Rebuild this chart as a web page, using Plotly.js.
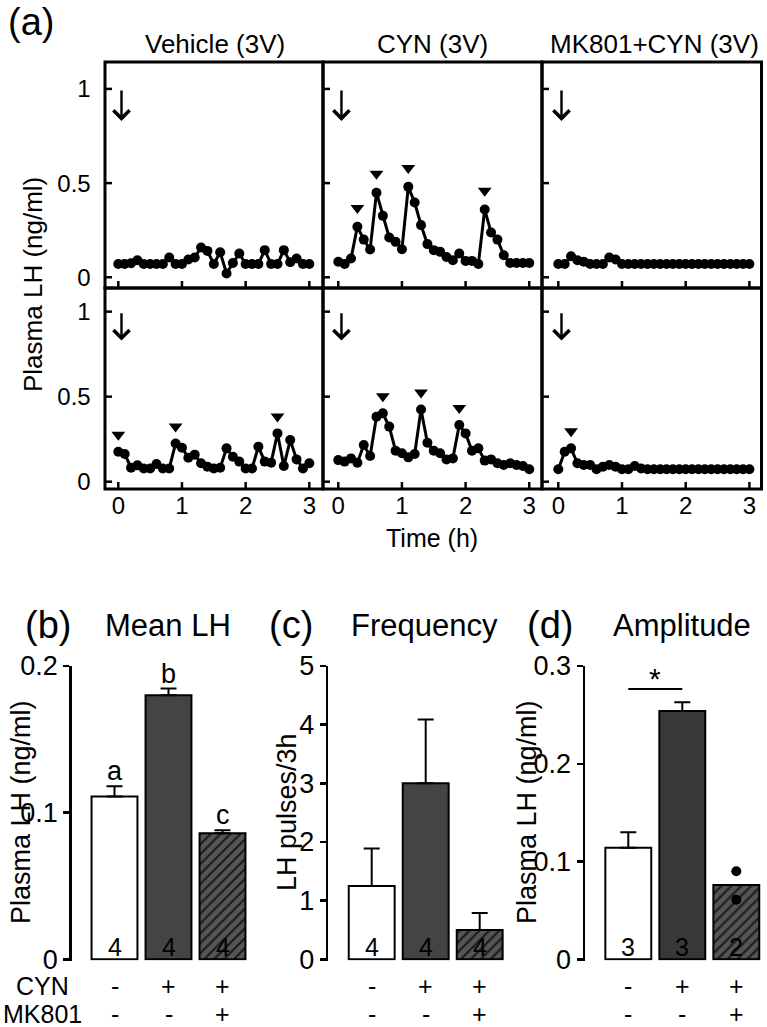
<!DOCTYPE html>
<html><head><meta charset="utf-8">
<script src="https://cdn.plot.ly/plotly-3.0.1.min.js"></script>
<style>html,body{margin:0;padding:0;background:#fff}</style>
</head><body>
<div id="chart" style="width:767px;height:1027px"></div>
<script>
// ---------- DATA ----------
const time = [0,0.1,0.2,0.3,0.4,0.5,0.6,0.7,0.8,0.9,1.0,1.1,1.2,1.3,1.4,1.5,1.6,1.7,1.8,1.9,2.0,2.1,2.2,2.3,2.4,2.5,2.6,2.7,2.8,2.9,3.0];
const timeTicks = [0, 1, 2, 3];
const lhTicks = [0, 0.5, 1];
const lhTickText = ['0', '0.5', '1'];
const panelTitles = ['Vehicle (3V)', 'CYN (3V)', 'MK801+CYN (3V)'];
const vehTop = [0.07,0.07,0.075,0.09,0.07,0.07,0.07,0.07,0.105,0.07,0.07,0.094,0.105,0.158,0.14,0.07,0.133,0.02,0.076,0.126,0.07,0.07,0.07,0.144,0.07,0.07,0.144,0.08,0.1,0.07,0.07];
const cynTop = [0.082,0.07,0.1,0.268,0.2,0.147,0.449,0.326,0.211,0.188,0.149,0.48,0.397,0.277,0.176,0.144,0.135,0.108,0.09,0.126,0.087,0.087,0.07,0.36,0.238,0.2,0.117,0.076,0.076,0.076,0.076];
const mkTop  = [0.07,0.07,0.112,0.09,0.082,0.07,0.07,0.07,0.105,0.094,0.07,0.07,0.07,0.07,0.07,0.07,0.07,0.07,0.07,0.07,0.07,0.07,0.07,0.07,0.07,0.07,0.07,0.07,0.07,0.07,0.07];
const vehBot = [0.176,0.163,0.082,0.096,0.078,0.078,0.104,0.078,0.078,0.225,0.2,0.141,0.159,0.108,0.088,0.078,0.082,0.196,0.147,0.118,0.078,0.078,0.206,0.118,0.112,0.284,0.092,0.245,0.131,0.078,0.108];
const cynBot = [0.127,0.118,0.137,0.112,0.216,0.151,0.382,0.402,0.324,0.182,0.167,0.143,0.163,0.425,0.229,0.182,0.167,0.131,0.137,0.333,0.284,0.182,0.196,0.124,0.131,0.108,0.098,0.108,0.098,0.092,0.073];
const mkBot  = [0.073,0.176,0.196,0.108,0.098,0.098,0.073,0.088,0.098,0.088,0.073,0.073,0.092,0.078,0.073,0.073,0.073,0.073,0.073,0.073,0.073,0.073,0.073,0.073,0.073,0.073,0.073,0.073,0.073,0.073,0.073];
// pulse times (arrowheads)
const vehTopPulses = [];
const cynTopPulses = [0.3, 0.6, 1.1, 2.3];
const mkTopPulses  = [];
const vehBotPulses = [0, 0.9, 2.5];
const cynBotPulses = [0.7, 1.3, 1.9];
const mkBotPulses  = [0.2];
const injectionTime = [0];

const groups = ['Vehicle', 'CYN', 'MK801+CYN'];
const meanLH = [0.111, 0.180, 0.086];
const meanLHsem = [0.007, 0.0046, 0.002];
const meanLetters = ['a', 'b', 'c'];
const meanN = ['4', '4', '4'];
const freq = [1.25, 3.0, 0.5];
const freqSem = [0.64, 1.09, 0.29];
const freqN = ['4', '4', '4'];
const amp = [0.114, 0.254, 0.076];
const ampSem = [0.016, 0.009, null];
const ampN = ['3', '3', '2'];
const ampDots = [0.090, 0.061];
const cynSigns = ['-', '+', '+'];
const mkSigns  = ['-', '-', '+'];

// ---------- LAYOUT HELPERS ----------
const W = 767, H = 1027;
const px = v => v / W, py = v => 1 - v / H;
const FONT = 'Liberation Sans, Arial, sans-serif';
const series = [vehTop, cynTop, mkTop, vehBot, cynBot, mkBot];
const pulses = [vehTopPulses, cynTopPulses, mkTopPulses, vehBotPulses, cynBotPulses, mkBotPulses];
const xid = k => k === 1 ? 'x' : 'x' + k;
const yid = k => k === 1 ? 'y' : 'y' + k;
const xkey = k => k === 1 ? 'xaxis' : 'xaxis' + k;
const ykey = k => k === 1 ? 'yaxis' : 'yaxis' + k;

const colX = [[105, 323], [323, 542], [542, 761.5]];
const colR = [[-0.209, 3.215], [-0.24, 3.2], [-0.256, 3.19]];
const rowY = [[62, 288], [288, 489]];
const rowR = [[-0.057, 1.143], [-0.043, 1.139]];
const TICKLEN = 7;

const traces = [];
const layout = {
  width: W, height: H, margin: {l: 0, r: 0, t: 0, b: 0},
  paper_bgcolor: '#fff', plot_bgcolor: 'rgba(0,0,0,0)',
  showlegend: false, font: {family: FONT, color: '#000'}, barmode: 'overlay',
  annotations: [], shapes: []
};

for (let k = 1; k <= 6; k++) {
  const row = k <= 3 ? 0 : 1, col = (k - 1) % 3;
  const ys = series[k - 1];
  const wpx = colX[col][1] - colX[col][0], hpx = rowY[row][1] - rowY[row][0];
  traces.push({
    type: 'scatter', mode: 'lines+markers', x: time, y: ys,
    xaxis: xid(k), yaxis: yid(k),
    line: {color: '#000', width: 3}, marker: {color: '#000', size: 10}
  });
  const pt = pulses[k - 1];
  traces.push({
    type: 'scatter', mode: 'markers', x: pt,
    y: pt.map(t => ys[time.indexOf(t)] + 0.1),
    xaxis: xid(k), yaxis: yid(k),
    marker: {symbol: 'triangle-down', color: '#000', size: 12}
  });
  layout[xkey(k)] = {
    domain: [px(colX[col][0]), px(colX[col][1])], range: colR[col], anchor: yid(k),
    showline: false, ticks: '',
    tickvals: timeTicks, ticktext: timeTicks.map(String),
    showticklabels: row === 1, tickfont: {size: 24},
    showgrid: false, zeroline: false, fixedrange: true
  };
  layout[ykey(k)] = {
    domain: [py(rowY[row][1]), py(rowY[row][0])], range: rowR[row], anchor: xid(k),
    showline: false, ticks: '',
    tickvals: lhTicks, ticktext: lhTickText.map(s => s + '\u00a0\u00a0'),
    showticklabels: col === 0, tickfont: {size: 24},
    showgrid: false, zeroline: false, fixedrange: true
  };
  // frame
  layout.shapes.push({type: 'rect', xref: xid(k) + ' domain', yref: yid(k) + ' domain', x0: 0, x1: 1, y0: 0, y1: 1,
    line: {color: '#000', width: 3}, fillcolor: 'rgba(0,0,0,0)'});
  // inside ticks
  timeTicks.forEach(t => layout.shapes.push({type: 'line', xref: xid(k), yref: yid(k) + ' domain', x0: t, x1: t, y0: 0, y1: TICKLEN / hpx, line: {color: '#000', width: 2.5}}));
  lhTicks.forEach(v => layout.shapes.push({type: 'line', xref: xid(k) + ' domain', yref: yid(k), x0: 0, x1: TICKLEN / wpx, y0: v, y1: v, line: {color: '#000', width: 2.5}}));
  // injection arrow
  layout.annotations.push({
    xref: xid(k), yref: yid(k), x: injectionTime[0] + 0.05, y: 0.83,
    axref: xid(k), ayref: yid(k), ax: injectionTime[0] + 0.05, ay: 1.0,
    showarrow: true, arrowhead: 4, arrowsize: 1.3, arrowwidth: 2.4, arrowcolor: '#000', text: ''
  });
}

// panel (a) texts
layout.annotations.push({xref: 'paper', yref: 'paper', x: px(31), y: py(22), text: '(a)', showarrow: false, font: {size: 38}, xanchor: 'center', yanchor: 'middle'});
const titleX = [215, 433, 654];
panelTitles.forEach((t, i) => layout.annotations.push({xref: 'paper', yref: 'paper', x: px(titleX[i]), y: py(44), text: t, showarrow: false, font: {size: 26}, xanchor: 'center', yanchor: 'middle'}));
layout.annotations.push({xref: 'paper', yref: 'paper', x: px(33), y: py(285), text: 'Plasma LH (ng/ml)', textangle: -90, showarrow: false, font: {size: 26}, xanchor: 'center', yanchor: 'middle'});
layout.annotations.push({xref: 'paper', yref: 'paper', x: px(432), y: py(538), text: 'Time (h)', showarrow: false, font: {size: 25}, xanchor: 'center', yanchor: 'middle'});

// ---------- BAR CHARTS ----------
const bars = [
  {k: 7, vals: meanLH, sem: meanLHsem, n: meanN, axisX: 71.7, c0: 114.5, right: 250, yr: [0, 0.2], tv: [0, 0.1, 0.2], tt: ['0', '0.1', '0.2'],
   dark: '#444444', ytitle: 'Plasma LH (ng/ml)', ytx: 21, lab: '(b)', labX: 48, title: 'Mean LH', titleX: 168},
  {k: 8, vals: freq, sem: freqSem, n: freqN, axisX: 328.3, c0: 371.7, right: 505, yr: [0, 5], tv: [0, 1, 2, 3, 4, 5], tt: ['0', '1', '2', '3', '4', '5'],
   dark: '#444444', ytitle: 'LH pulses/3h', ytx: 287, lab: '(c)', labX: 291, title: 'Frequency', titleX: 425},
  {k: 9, vals: amp, sem: ampSem, n: ampN, axisX: 585, c0: 628.3, right: 765, yr: [0, 0.3], tv: [0, 0.1, 0.2, 0.3], tt: ['0', '0.1', '0.2', '0.3'],
   dark: '#383838', ytitle: 'Plasma LH (ng/ml)', ytx: 527, lab: '(d)', labX: 550, title: 'Amplitude', titleX: 682}
];
const SP = 54, Y0 = 959.3, YT = 666;
bars.forEach(b => {
  const k = b.k;
  const xs = [0, 1, 2];
  const span = b.yr[1] - b.yr[0];
  const ppu = (Y0 - YT) / span;
  const errStyle = {type: 'data', symmetric: false, color: '#000', thickness: 2, width: 8};
  // open and solid bars
  traces.push({
    type: 'bar', x: xs.slice(0, 2), y: b.vals.slice(0, 2), width: 0.85, xaxis: 'x' + k, yaxis: 'y' + k,
    marker: {color: ['#ffffff', b.dark], line: {color: '#000', width: 2}},
    error_y: Object.assign({array: b.sem.slice(0, 2), arrayminus: [0, 0]}, errStyle)
  });
  // hatched bar
  traces.push({
    type: 'bar', x: xs.slice(2), y: b.vals.slice(2), width: 0.85, xaxis: 'x' + k, yaxis: 'y' + k,
    marker: {color: '#555555', line: {color: '#000', width: 2},
      pattern: {shape: '/', fillmode: 'overlay', fgcolor: '#1a1a1a', fgopacity: 1, size: 7, solidity: 0.3}},
    error_y: Object.assign({array: b.sem.slice(2), arrayminus: [0]}, errStyle)
  });
  layout['xaxis' + k] = {
    domain: [px(b.axisX), px(b.right)], range: [(b.axisX - b.c0) / SP, (b.right - b.c0) / SP],
    anchor: 'y' + k, visible: false, fixedrange: true
  };
  layout['yaxis' + k] = {
    domain: [py(Y0 + 1.2), py(YT)], range: [b.yr[0] - 1.2 / ppu, b.yr[1]], anchor: 'x' + k,
    showline: true, linewidth: 2.5, linecolor: '#000',
    ticks: 'outside', ticklen: 6, tickwidth: 2.5, tickcolor: '#000',
    tickvals: b.tv, ticktext: b.tt, tickfont: {size: 27},
    showgrid: false, zeroline: false, fixedrange: true
  };
  // n inside bars
  b.n.forEach((t, i) => layout.annotations.push({xref: 'x' + k, yref: 'y' + k, x: i, y: 0, text: t, showarrow: false, font: {size: 25, color: '#000'}, xanchor: 'center', yanchor: 'middle', yshift: 12}));
  // signs
  xs.forEach(i => {
    layout.annotations.push({xref: 'x' + k, yref: 'paper', x: i, y: py(986), text: cynSigns[i], showarrow: false, font: {size: 25}, xanchor: 'center', yanchor: 'middle'});
    layout.annotations.push({xref: 'x' + k, yref: 'paper', x: i, y: py(1014), text: mkSigns[i], showarrow: false, font: {size: 25}, xanchor: 'center', yanchor: 'middle'});
  });
  layout.annotations.push({xref: 'paper', yref: 'paper', x: px(b.ytx), y: py(812), text: b.ytitle, textangle: -90, showarrow: false, font: {size: 27}, xanchor: 'center', yanchor: 'middle'});
  layout.annotations.push({xref: 'paper', yref: 'paper', x: px(b.labX), y: py(625), text: b.lab, showarrow: false, font: {size: 38}, xanchor: 'center', yanchor: 'middle'});
  layout.annotations.push({xref: 'paper', yref: 'paper', x: px(b.titleX), y: py(625), text: b.title, showarrow: false, font: {size: 31}, xanchor: 'center', yanchor: 'middle'});
});
// letters on mean LH
meanLetters.forEach((t, i) => layout.annotations.push({xref: 'x7', yref: 'y7', x: i, y: meanLH[i] + meanLHsem[i], text: t, showarrow: false, font: {size: 27}, xanchor: 'center', yanchor: 'middle', yshift: 15}));
// individual points for MK801+CYN amplitude
traces.push({type: 'scatter', mode: 'markers', x: ampDots.map(() => 2), y: ampDots, xaxis: 'x9', yaxis: 'y9', marker: {color: '#000', size: 10}});
// significance
layout.shapes.push({type: 'line', xref: 'x9', yref: 'y9', x0: 0, x1: 1, y0: 0.2764, y1: 0.2764, line: {color: '#000', width: 2}});
layout.annotations.push({xref: 'x9', yref: 'y9', x: 0.5, y: 0.2764, text: '*', showarrow: false, font: {size: 30}, xanchor: 'center', yanchor: 'bottom', yshift: -8});
// CYN / MK801 row labels
layout.annotations.push({xref: 'paper', yref: 'paper', x: px(42), y: py(986), text: 'CYN', showarrow: false, font: {size: 25}, xanchor: 'center', yanchor: 'middle'});
layout.annotations.push({xref: 'paper', yref: 'paper', x: px(42), y: py(1014), text: 'MK801', showarrow: false, font: {size: 25}, xanchor: 'center', yanchor: 'middle'});

Plotly.newPlot('chart', traces, layout, {staticPlot: true, displayModeBar: false});
</script>
</body></html>
